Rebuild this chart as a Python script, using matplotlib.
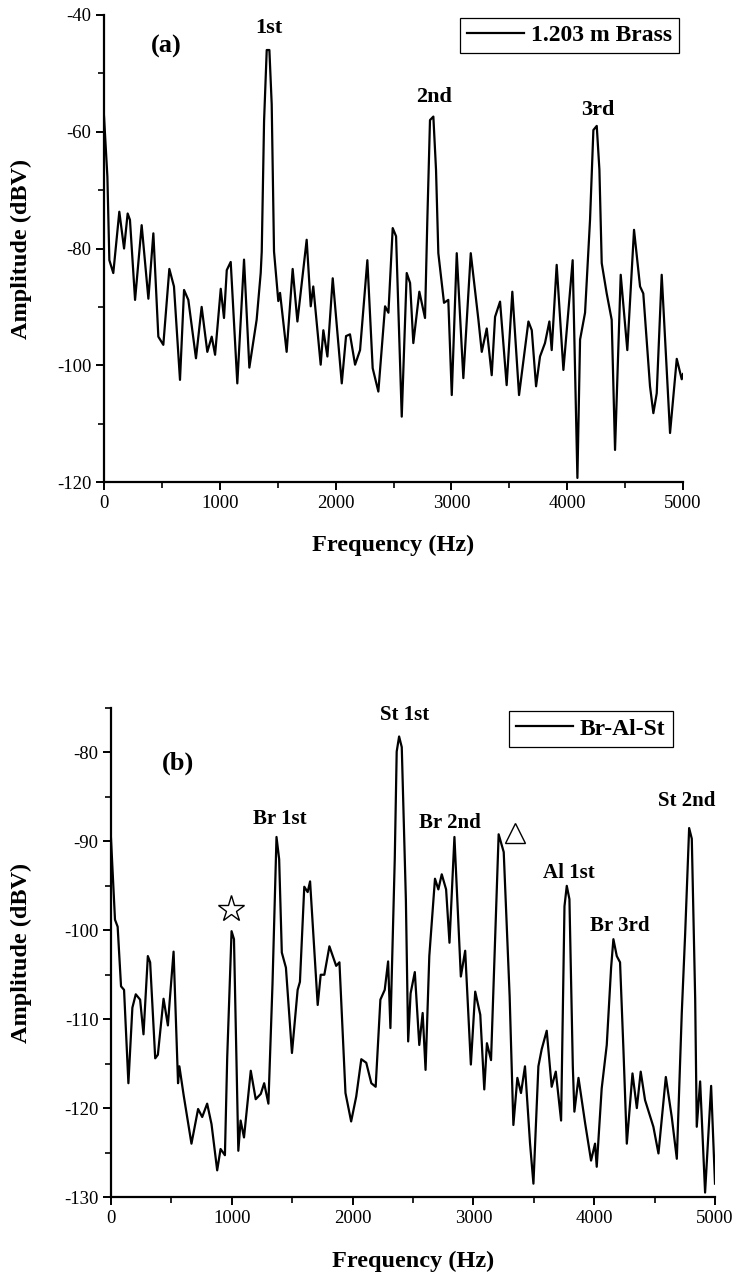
import matplotlib
matplotlib.use("Agg")
import matplotlib.pyplot as plt
from matplotlib.ticker import MultipleLocator

plt.rcParams['font.family'] = ['Liberation Serif', 'DejaVu Serif']
plt.rcParams['axes.unicode_minus'] = False

# (a) 1.203 m brass rod spectrum
freq_a = [0, 29, 46, 80, 132, 173, 204, 224, 268, 325, 383, 426, 469, 512, 564, 604,
          656, 691, 728, 794, 843, 892, 930, 959, 1008, 1036, 1060, 1094, 1151, 1209,
          1255, 1318, 1353, 1362, 1382, 1405, 1428, 1448, 1468, 1505, 1520, 1577, 1629,
          1670, 1750, 1785, 1807, 1871, 1894, 1929, 1975, 2053, 2090, 2124, 2168, 2211,
          2274, 2320, 2369, 2427, 2456, 2493, 2522, 2571, 2614, 2643, 2671, 2723, 2772,
          2792, 2815, 2844, 2867, 2887, 2936, 2973, 3003, 3046, 3103, 3167, 3233, 3262,
          3305, 3348, 3377, 3420, 3477, 3526, 3584, 3665, 3694, 3731, 3765, 3808, 3846,
          3866, 3909, 3967, 4047, 4088, 4111, 4154, 4197, 4226, 4255, 4278, 4298, 4341,
          4384, 4413, 4462, 4519, 4577, 4629, 4657, 4715, 4744, 4773, 4816, 4888, 4946,
          4989, 5000]
amp_a = [-57.4, -67.7, -82.0, -84.2, -73.7, -80.0, -74.0, -75.1, -88.8, -76.0, -88.6,
         -77.4, -95.1, -96.5, -83.5, -86.5, -102.5, -87.1, -88.8, -98.8, -90.0, -97.7,
         -95.1, -98.2, -86.9, -91.9, -83.7, -82.3, -103.1, -81.9, -100.4, -92.2, -84.2,
         -80.5, -58.2, -46.0, -46.0, -55.3, -80.5, -89.0, -87.6, -97.7, -83.5, -92.5,
         -78.5, -89.9, -86.5, -99.9, -94.0, -98.5, -85.1, -103.1, -95.0, -94.7, -99.9,
         -97.4, -82.0, -100.5, -104.5, -89.9, -91.0, -76.5, -77.9, -108.8, -84.2, -85.9,
         -96.2, -87.4, -91.9, -75.1, -58.0, -57.4, -66.5, -80.8, -89.3, -88.8, -105.1,
         -80.8, -102.2, -80.8, -92.2, -97.7, -93.7, -101.7, -91.7, -89.1, -103.4, -87.4,
         -105.1, -92.5, -94.0, -103.6, -98.5, -96.2, -92.5, -97.4, -82.8, -100.8, -82.0,
         -119.3, -95.6, -91.0, -75.1, -59.7, -59.0, -66.5, -82.5, -87.7, -92.2, -114.5,
         -84.5, -97.4, -76.8, -86.5, -87.7, -103.6, -108.2, -104.8, -84.5, -111.6, -98.9,
         -102.4, -101.5]

# (b) Br-Al-St composite rod spectrum
freq_b = [0, 33, 55, 83, 108, 144, 177, 205, 241, 269, 305, 324, 366, 388, 435, 471,
          485, 518, 555, 566, 602, 666, 721, 755, 796, 832, 879, 907, 943, 962, 998,
          1018, 1054, 1073, 1101, 1157, 1198, 1240, 1268, 1303, 1337, 1370, 1392, 1414,
          1448, 1498, 1545, 1564, 1600, 1628, 1648, 1697, 1711, 1736, 1766, 1808, 1864,
          1891, 1941, 1988, 2030, 2072, 2113, 2155, 2191, 2230, 2266, 2294, 2313, 2349,
          2365, 2385, 2407, 2441, 2460, 2480, 2515, 2552, 2580, 2604, 2635, 2682, 2710,
          2738, 2774, 2802, 2843, 2896, 2932, 2979, 3015, 3057, 3090, 3112, 3146, 3209,
          3251, 3300, 3331, 3364, 3394, 3427, 3469, 3497, 3538, 3565, 3607, 3648, 3682,
          3726, 3754, 3773, 3795, 3823, 3836, 3870, 3925, 3974, 4007, 4021, 4062, 4104,
          4140, 4159, 4187, 4214, 4242, 4270, 4317, 4353, 4385, 4421, 4490, 4532, 4593,
          4642, 4684, 4725, 4753, 4786, 4808, 4836, 4849, 4877, 4918, 4968, 5000]
amp_b = [-89.7, -98.8, -99.6, -106.3, -106.7, -117.2, -108.7, -107.2, -107.8, -111.7,
         -102.9, -103.6, -114.4, -114.0, -107.7, -110.7, -108.1, -102.4, -117.2, -115.3,
         -118.6, -124.0, -120.1, -121.0, -119.5, -121.8, -127.0, -124.6, -125.3, -114.3,
         -100.1, -101.0, -124.8, -121.4, -123.3, -115.8, -119.0, -118.4, -117.2, -119.5,
         -106.0, -89.5, -92.0, -102.5, -104.2, -113.8, -106.7, -105.8, -95.1, -95.7,
         -94.5, -105.2, -108.4, -105.0, -105.0, -101.8, -104.0, -103.6, -118.3, -121.5,
         -118.7, -114.5, -114.9, -117.2, -117.6, -107.8, -106.7, -103.5, -111.0, -92.0,
         -79.9, -78.2, -79.4, -96.5, -112.5, -107.1, -104.7, -112.9, -109.3, -115.7,
         -102.9, -94.2, -95.4, -93.7, -95.4, -101.4, -89.5, -105.2, -102.3, -115.1,
         -106.9, -109.5, -117.9, -112.7, -114.6, -89.2, -91.2, -107.4, -121.9, -116.6,
         -118.3, -115.3, -124.0, -128.5, -115.3, -113.4, -111.3, -117.6, -115.9, -121.4,
         -97.3, -95.0, -96.5, -115.3, -120.4, -116.6, -121.7, -125.9, -124.0, -126.6,
         -117.8, -112.9, -104.2, -101.0, -102.9, -103.6, -113.4, -124.0, -116.1, -120.0,
         -115.9, -119.1, -122.1, -125.1, -116.5, -121.0, -125.7, -109.3, -100.4, -88.5,
         -89.7, -107.7, -122.1, -117.0, -129.5, -117.5, -128.5]

peak_labels_a = ['1st', '2nd', '3rd']
peak_labels_b = ['Br 1st', 'St 1st', 'Br 2nd', 'Al 1st', 'Br 3rd', 'St 2nd']

fig = plt.figure(figsize=(7.42, 12.82), dpi=100)
ax1 = fig.add_axes([0.1402, 0.624, 0.7803, 0.3643])
ax2 = fig.add_axes([0.1496, 0.0663, 0.8140, 0.3814])

tick_fs = 13.5
lab_fs = 17.5


def style(ax):
    for s in ['top', 'right']:
        ax.spines[s].set_visible(False)
    for s in ['left', 'bottom']:
        ax.spines[s].set_linewidth(1.6)
    ax.tick_params(which='major', direction='out', length=6, width=1.4,
                   labelsize=tick_fs, pad=3)
    ax.tick_params(which='minor', direction='out', length=4, width=1.2)
    ax.xaxis.set_major_locator(MultipleLocator(1000))
    ax.xaxis.set_minor_locator(MultipleLocator(500))
    ax.set_xlim(0, 5000)
    ax.set_xlabel('Frequency (Hz)', fontsize=lab_fs, fontweight='bold')
    ax.set_ylabel('Amplitude (dBV)', fontsize=lab_fs, fontweight='bold')


# panel (a)
ax1.plot(freq_a, amp_a, color='black', lw=1.6, solid_joinstyle='round',
         label='1.203 m Brass')
style(ax1)
ax1.set_ylim(-120, -40)
ax1.yaxis.set_major_locator(MultipleLocator(20))
ax1.yaxis.set_minor_locator(MultipleLocator(10))
ax1.yaxis.set_label_coords(-0.125, 0.5)
ax1.xaxis.set_label_coords(0.5, -0.113)
ax1.text(541, -45.4, '(a)', fontsize=19, fontweight='bold', ha='center', va='center')
for lab, (x, y) in zip(peak_labels_a, [(1425, -42.2), (2850, -54.0), (4266, -56.3)]):
    ax1.text(x, y, lab, fontsize=16, fontweight='bold', ha='center', va='center')
leg = ax1.legend(loc='upper right', bbox_to_anchor=(0.993, 0.994), borderaxespad=0,
                 fancybox=False, edgecolor='black', framealpha=1, handlelength=2.4,
                 handletextpad=0.3, borderpad=0.3, prop={'size': 17, 'weight': 'bold'})
leg.get_frame().set_linewidth(0.9)

# panel (b)
ax2.plot(freq_b, amp_b, color='black', lw=1.6, solid_joinstyle='round',
         label='Br-Al-St')
style(ax2)
ax2.set_ylim(-130, -75)
ax2.yaxis.set_major_locator(MultipleLocator(10))
ax2.yaxis.set_minor_locator(MultipleLocator(5))
ax2.yaxis.set_label_coords(-0.13, 0.5)
ax2.xaxis.set_label_coords(0.5, -0.11)
ax2.text(555, -81.2, '(b)', fontsize=19, fontweight='bold', ha='center', va='center')
pos_b = [(1399, -87.5), (2429, -75.8), (2807, -87.9), (3790, -93.5), (4215, -99.5),
         (4766, -85.4)]
for lab, (x, y) in zip(peak_labels_b, pos_b):
    ax2.text(x, y, lab, fontsize=15, fontweight='bold', ha='center', va='center')
ax2.plot([994], [-97.6], marker='*', markersize=20, markerfacecolor='white',
         markeredgecolor='black', markeredgewidth=1.0, linestyle='none')
ax2.plot([3345], [-89.0], marker='^', markersize=15, markerfacecolor='white',
         markeredgecolor='black', markeredgewidth=1.0, linestyle='none')
leg2 = ax2.legend(loc='upper right', bbox_to_anchor=(0.930, 0.994), borderaxespad=0,
                  fancybox=False, edgecolor='black', framealpha=1, handlelength=2.4,
                  handletextpad=0.3, borderpad=0.3, prop={'size': 17, 'weight': 'bold'})
leg2.get_frame().set_linewidth(0.9)

fig.savefig('out.png', dpi=100)
